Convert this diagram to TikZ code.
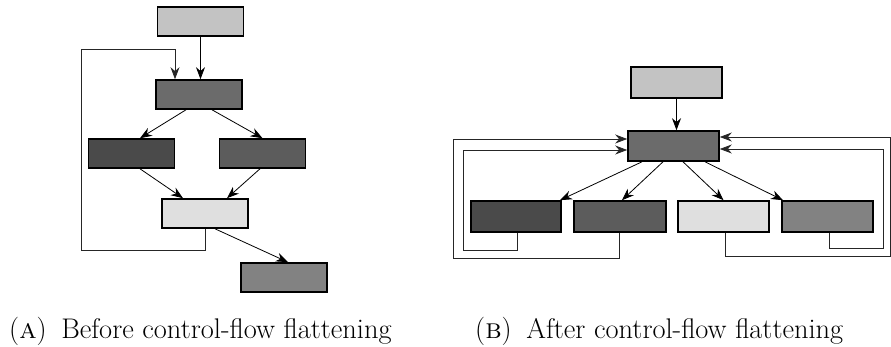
\documentclass[tikz,border=0pt]{standalone}
\usepackage{fontspec}
\usetikzlibrary{arrows.meta,calc}
\definecolor{cTop}{HTML}{C3C3C3}
\definecolor{cDisp}{HTML}{6B6B6B}
\definecolor{cDark}{HTML}{4A4A4A}
\definecolor{cMid}{HTML}{5C5C5C}
\definecolor{cLight}{HTML}{DFDFDF}
\definecolor{cGrey}{HTML}{828282}
\tikzset{
  blk/.style={draw=black, line width=1.6pt, rectangle, inner sep=0pt, minimum width=86pt, minimum height=29pt},
  arr/.style={-{Stealth[length=12pt,width=9pt]}, line width=0.8pt},
  loopln/.style={line width=0.8pt, black!85},
  captxt/.style={font=\fontsize{28.4}{32}\selectfont, inner sep=0pt, anchor=base west}
}
\begin{document}
\begin{tikzpicture}[x=1pt,y=-1pt]
\useasboundingbox (0,0) rectangle (891,347);
% ---- left: before flattening
\node[blk, fill=cTop]   (a1) at (200.5,21.5) {};
\node[blk, fill=cDisp]  (a2) at (199,94.5) {};
\node[blk, fill=cDark]  (a3) at (131.5,153.5) {};
\node[blk, fill=cMid]   (a4) at (262.5,153.5) {};
\node[blk, fill=cLight] (a5) at (205,213.5) {};
\node[blk, fill=cGrey]  (a6) at (284,277.5) {};
\draw[arr] (a1.south) -- (a1.south |- a2.north);
\draw[arr] ([xshift=-13pt]a2.south) -- ([xshift=8.5pt]a3.north);
\draw[arr] ([xshift=13pt]a2.south) -- (a4.north);
\draw[arr] ([xshift=8.5pt]a3.south) -- ([xshift=-22pt]a5.north);
\draw[arr] ([xshift=-2.5pt]a4.south) -- ([xshift=22pt]a5.north);
\draw[arr] ([xshift=10pt]a5.south) -- ([xshift=4pt]a6.north);
\draw[loopln, arr] (a5.south) |- (81,250) |- (175,49) -- ([xshift=-24pt]a2.north);
% ---- right: after flattening
\node[blk, fill=cTop, minimum width=91pt, minimum height=31pt]   (b0) at (676.5,82.5) {};
\node[blk, fill=cDisp, minimum width=91pt, minimum height=30pt]  (b1) at (673.5,146) {};
\node[blk, fill=cDark, minimum width=90pt, minimum height=31pt]  (c1) at (516,216.5) {};
\node[blk, fill=cMid, minimum width=92pt, minimum height=31pt]   (c2) at (620,216.5) {};
\node[blk, fill=cLight, minimum width=91pt, minimum height=31pt] (c3) at (723.5,216.5) {};
\node[blk, fill=cGrey, minimum width=91pt, minimum height=31pt]  (c4) at (827.5,216.5) {};
\draw[arr] (b0.south) -- (b0.south |- b1.north);
\draw[arr] ([xshift=-31.5pt]b1.south) -- ([xshift=44pt]c1.north);
\draw[arr] ([xshift=-10.5pt]b1.south) -- ([xshift=2pt]c2.north);
\draw[arr] ([xshift=9.5pt]b1.south) -- (c3.north);
\draw[arr] ([xshift=31.5pt]b1.south) -- ([xshift=-44.5pt]c4.north);
\draw[loopln, arr] ([xshift=-1pt]c2.south) |- (453,258) |- ([yshift=7pt]b1.west);
\draw[loopln, arr] ([xshift=1pt]c1.south) |- (463,250) |- ([yshift=-4pt]b1.west);
\draw[loopln, arr] ([xshift=1.5pt]c3.south) |- (890,256) |- ([yshift=9pt]b1.east);
\draw[loopln, arr] ([xshift=1.5pt]c4.south) |- (883,248) |- ([yshift=-3pt]b1.east);
% ---- captions
\node[captxt] (capA) at (9,338) {(\textsc{a})\hspace{6pt} Before control-flow flattening};
\node[captxt] (capB) at (475,338) {(\textsc{b})\hspace{6pt} After control-flow flattening};
\end{tikzpicture}
\end{document}
